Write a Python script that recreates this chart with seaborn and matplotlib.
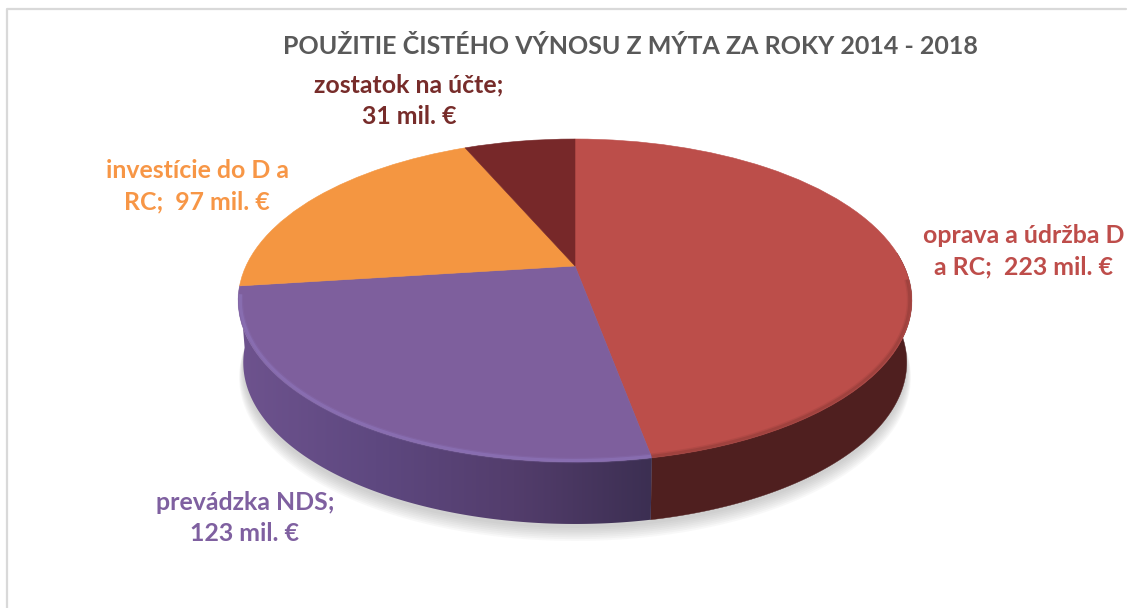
import numpy as np
import matplotlib
matplotlib.use("Agg")
import matplotlib.pyplot as plt
from matplotlib.transforms import Transform
from matplotlib.path import Path
from matplotlib.patches import PathPatch
from matplotlib.colors import LinearSegmentedColormap
import seaborn as sns

categories = ["oprava a údržba D a RC", "prevádzka NDS", "investície do D a RC", "zostatok na účte"]
values = [223, 123, 97, 31]
labels = ["oprava a údržba D\na RC;  223 mil. €", "prevádzka NDS;\n123 mil. €",
          "investície do D a\nRC;  97 mil. €", "zostatok na účte;\n31 mil. €"]
colors = ["#BC4E4A", "#7E5F9D", "#F49641", "#772829"]
text_colors = ["#BE4D4A", "#7F60A0", "#F79646", "#772C2A"]
title = "POUŽITIE ČISTÉHO VÝNOSU Z MÝTA ZA ROKY 2014 - 2018"

sns.set_theme(style="white")
plt.rcParams["font.family"] = ["Lato", "DejaVu Sans"]

W, H = 1130, 608
CX, CY, AX_, AY_, C = 575.0, 266.0, 329.0, 97.3, 0.2136
WALL = 62.0
SHRINK = 0.985


def project(x, y, drop=0.0, shrink=1.0):
    w = 1 + C * y
    return CX + shrink * AX_ * x / w, (CY - AY_ * y) / w + drop


class Perspective(Transform):
    input_dims = output_dims = 2
    is_separable = False
    has_inverse = False

    def transform_non_affine(self, xy):
        xy = np.asarray(xy, float)
        px, py = project(xy[:, 0], xy[:, 1])
        return np.column_stack([px, py])

    def transform_path_non_affine(self, path):
        return Path(self.transform_non_affine(path.vertices), path.codes)


fig = plt.figure(figsize=(W / 100, H / 100), dpi=100, facecolor="white")
ax = fig.add_axes([0, 0, 1, 1])

wedges, _ = ax.pie(values, colors=colors, startangle=90, counterclock=False,
                   wedgeprops=dict(linewidth=0))
persp = Perspective()
for wd, col in zip(wedges, colors):
    wd.set_transform(persp + ax.transData)
    wd.set_zorder(5)
    wd.set_edgecolor(col)
    wd.set_linewidth(0.4)

fractions = np.array(values) / np.sum(values)
edges = np.concatenate([[0], np.cumsum(fractions) * 360])

# soft shadow below the disc
t = np.radians(np.linspace(0, 360, 361))
for grow, dy in zip(np.linspace(0.012, 0.0, 8), np.linspace(14, 4, 8)):
    sx, sy = project(np.sin(t) * (1 + grow), np.cos(t) * (1 + grow), WALL + dy, SHRINK)
    ax.fill(sx, sy, color="#808080", alpha=0.05, lw=0, zorder=1)


def wall_outline(lo, hi):
    th = np.radians(np.linspace(lo, hi, 300))
    x1, y1 = project(np.sin(th), np.cos(th))
    x2, y2 = project(np.sin(th), np.cos(th), WALL, SHRINK)
    return np.column_stack([np.r_[x1, x2[::-1]], np.r_[y1, y2[::-1]]])


# side wall of the red slice: nearly flat dark tone
red_poly = wall_outline(max(edges[0], 85), edges[1])
ax.fill(red_poly[:, 0], red_poly[:, 1], color="#4F1F1F", lw=0.3, zorder=3)

# side wall of the purple slice: horizontal gradient clipped to its outline
pur_poly = wall_outline(edges[1], edges[2])
cmap = LinearSegmentedColormap.from_list("wall", ["#6E538E", "#5E4880", "#533D6C", "#3C2F52"])
x0, x1 = pur_poly[:, 0].min(), pur_poly[:, 0].max()
y0, y1 = pur_poly[:, 1].min(), pur_poly[:, 1].max()
im = ax.imshow(np.linspace(0, 1, 256)[None, :], cmap=cmap, extent=(x0, x1, y1, y0),
               aspect="auto", zorder=3, interpolation="bilinear")
clip = PathPatch(Path(np.vstack([pur_poly, pur_poly[:1]]), closed=True),
                 transform=ax.transData, facecolor="none", edgecolor="none")
ax.add_patch(clip)
im.set_clip_path(clip)

# bevel along the front rim
rims = [("#7A3230", [(4, 0.16), (2, 0.3)]), ("#8F78BE", [(4, 0.2), (2.2, 0.5)])]
for i, (rim, strokes) in enumerate(rims):
    lo = max(edges[i], 95)
    hi = edges[i + 1] - (3 if i == 1 else 0)
    th = np.radians(np.linspace(lo, hi, 200))
    for lw, al in strokes:
        rx, ry = project(np.sin(th) * 0.994, np.cos(th) * 0.994)
        ax.plot(rx, ry, color=rim, lw=lw, alpha=al, solid_capstyle="butt", zorder=6)

ax.set_aspect("auto")
ax.set_xlim(0, W)
ax.set_ylim(H, 0)
ax.axis("off")

# chart frame
ax.plot([6.5, 6.5, 1126], [H, 8.5, 8.5], color="#D9D9D9", lw=1.6, zorder=0)

ax.text(630, 47, title, color="#595959", fontsize=18.0, fontweight="bold", ha="center", va="center", zorder=8)
label_pos = [(1024, 251), (245, 518), (197, 186), (409, 101)]
for lab, col, (lx, ly) in zip(labels, text_colors, label_pos):
    ax.text(lx, ly, lab, color=col, fontsize=17.9, fontweight="bold", ha="center", va="center",
            linespacing=1.45, zorder=8)

fig.savefig("out.png", dpi=100, facecolor="white")
